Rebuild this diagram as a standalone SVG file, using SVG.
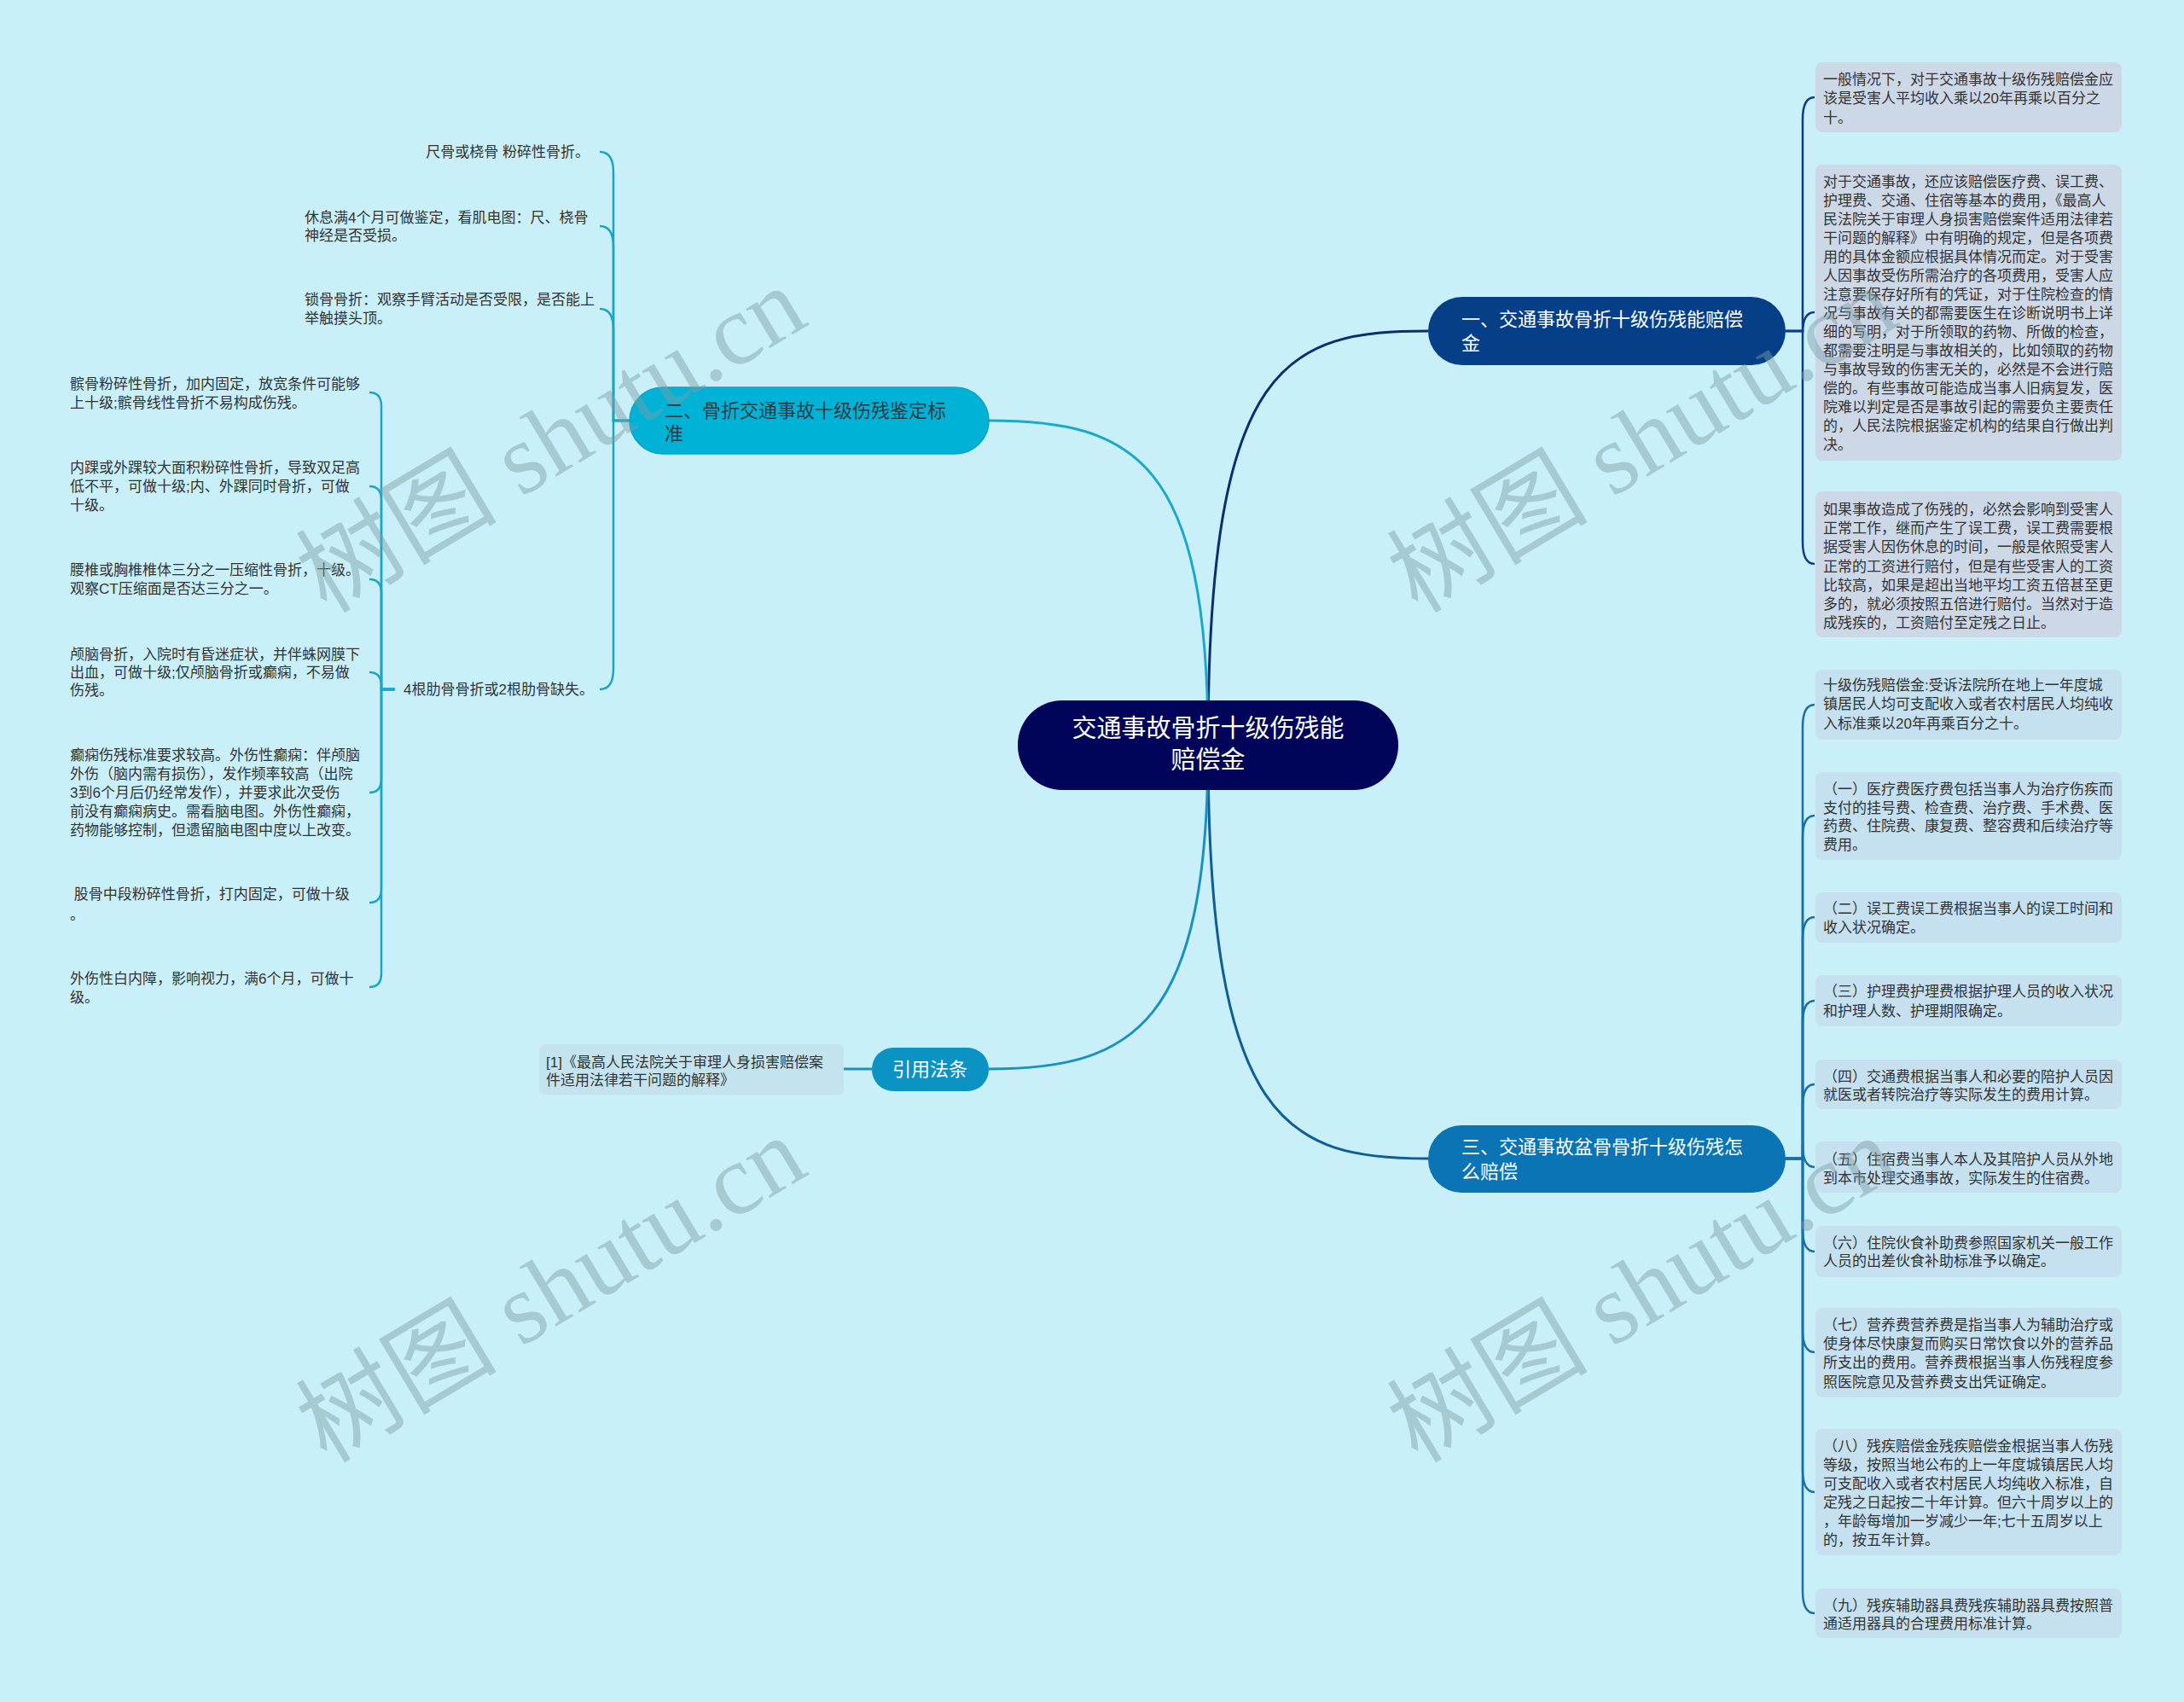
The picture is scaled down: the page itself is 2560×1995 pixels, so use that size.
<svg xmlns="http://www.w3.org/2000/svg" width="2560" height="1995" viewBox="0 0 2560 1995">
<style>
text{font-family:"Liberation Sans","Noto Sans CJK SC",sans-serif;}
.t{font-size:17px;fill:#333333;}
.n{font-size:22px;}
.w{fill:#ffffff;}
.bx1{fill:#cdd8e7;}
.bx3{fill:#c5e0ee;}
.c1{fill:none;stroke:#0d3c80;stroke-width:2.5;}
.c3{fill:none;stroke:#1b6fa8;stroke-width:2.5;}
.c2{fill:none;stroke:#1aa5c5;stroke-width:2.5;}
.cb{fill:none;stroke:#1aa6c9;stroke-width:2.5;}
.wm{font-family:"Liberation Serif","Noto Sans CJK SC",serif;font-size:118px;fill:#7d9ea6;opacity:0.45;}
</style>
<rect width="2560" height="1995" fill="#c9f0f8"/>

<g id="connectors">
  <path d="M1416 873 C1416 420,1510 388,1674 388" fill="none" stroke="#0b2f6e" stroke-width="3"/>
  <path d="M1416 873 C1416 1320,1510 1358,1674 1358" fill="none" stroke="#0e5c98" stroke-width="3"/>
  <path d="M1416 873 C1416 540,1330 493,1159 493" fill="none" stroke="#1ba9c9" stroke-width="3"/>
  <path d="M1416 873 C1416 1200,1330 1253,1159 1253" fill="none" stroke="#1a92bd" stroke-width="3"/>
  <path d="M1022 1253 H989" fill="none" stroke="#1a92bd" stroke-width="3"/>

  <path class="c1" d="M2093 388 H2113 V140 Q2113 114 2127 114"/>
  <path class="c1" d="M2093 388 H2113 V390 Q2113 366 2127 366"/>
  <path class="c1" d="M2093 388 H2113 V635 Q2113 661 2127 661"/>

  <path class="c3" d="M2093 1358 H2113 V852 Q2113 826 2127 826"/>
  <path class="c3" d="M2093 1358 H2113 V982 Q2113 956 2127 956"/>
  <path class="c3" d="M2093 1358 H2113 V1101 Q2113 1075 2127 1075"/>
  <path class="c3" d="M2093 1358 H2113 V1199 Q2113 1173 2127 1173"/>
  <path class="c3" d="M2093 1358 H2113 V1297 Q2113 1271 2127 1271"/>
  <path class="c3" d="M2093 1358 H2113 V1342 Q2113 1368 2127 1368"/>
  <path class="c3" d="M2093 1358 H2113 V1441 Q2113 1467 2127 1467"/>
  <path class="c3" d="M2093 1358 H2113 V1559 Q2113 1585 2127 1585"/>
  <path class="c3" d="M2093 1358 H2113 V1723 Q2113 1749 2127 1749"/>
  <path class="c3" d="M2093 1358 H2113 V1865 Q2113 1891 2127 1891"/>

  <path class="c2" d="M738 493 H719 V202 Q719 178 703 178"/>
  <path class="c2" d="M738 493 H719 V289 Q719 265 703 265"/>
  <path class="c2" d="M738 493 H719 V386 Q719 362 703 362"/>
  <path class="c2" d="M738 493 H719 V784 Q719 808 703 808"/>

  <path class="cb" d="M463 808 H447 V476 Q447 460 433 460"/>
  <path class="cb" d="M463 808 H447 V586 Q447 570 433 570"/>
  <path class="cb" d="M463 808 H447 V695 Q447 679 433 679"/>
  <path class="cb" d="M463 808 H447 V804 Q447 788 433 788"/>
  <path class="cb" d="M463 808 H447 V913 Q447 929 433 929"/>
  <path class="cb" d="M463 808 H447 V1042 Q447 1058 433 1058"/>
  <path class="cb" d="M463 808 H447 V1141 Q447 1157 433 1157"/>
</g>

<g id="center">
  <rect x="1193" y="821" width="446" height="105" rx="52" fill="#00055a"/>
  <text x="1416" y="864" font-size="29" class="w" text-anchor="middle">交通事故骨折十级伤残能</text>
  <text x="1416" y="901" font-size="29" class="w" text-anchor="middle">赔偿金</text>
</g>

<g id="node1">
  <rect x="1674" y="348" width="419" height="80" rx="40" fill="#053f88"/>
  <text class="n w" x="1713" y="382">一、交通事故骨折十级伤残能赔偿</text>
  <text class="n w" x="1713" y="410">金</text>
</g>

<g id="node3">
  <rect x="1674" y="1319" width="419" height="79" rx="39" fill="#0a74b5"/>
  <text class="n w" x="1713" y="1352">三、交通事故盆骨骨折十级伤残怎</text>
  <text class="n w" x="1713" y="1381">么赔偿</text>
</g>

<g id="node2">
  <rect x="738" y="454" width="421" height="78" rx="39" fill="#00b2d6" stroke="#10a2c6" stroke-width="1.5"/>
  <text class="n" fill="#2a3a44" x="779" y="489">二、骨折交通事故十级伤残鉴定标</text>
  <text class="n" fill="#2a3a44" x="779" y="516">准</text>
</g>

<g id="node-cite">
  <rect x="1022" y="1228" width="137" height="51" rx="25" fill="#0a93c3"/>
  <text class="n w" x="1090" y="1261" text-anchor="middle">引用法条</text>
</g>

<g id="cite-box">
  <rect x="632" y="1224" width="357" height="59" rx="6" fill="#c3e4ee"/>
  <text class="t" x="640" y="1251">[1]《最高人民法院关于审理人身损害赔偿案</text>
  <text class="t" x="640" y="1272">件适用法律若干问题的解释》</text>
</g>

<g id="r1a">
  <rect class="bx1" x="2128" y="73" width="359" height="82" rx="8"/>
  <text class="t" x="2137" y="99">一般情况下，对于交通事故十级伤残赔偿金应</text>
  <text class="t" x="2137" y="121">该是受害人平均收入乘以20年再乘以百分之</text>
  <text class="t" x="2137" y="144">十。</text>
</g>

<g id="r1b">
  <rect class="bx1" x="2128" y="193" width="359" height="347" rx="8"/>
  <text class="t" x="2137" y="219">对于交通事故，还应该赔偿医疗费、误工费、</text>
  <text class="t" x="2137" y="241">护理费、交通、住宿等基本的费用，《最高人</text>
  <text class="t" x="2137" y="263">民法院关于审理人身损害赔偿案件适用法律若</text>
  <text class="t" x="2137" y="285">干问题的解释》中有明确的规定，但是各项费</text>
  <text class="t" x="2137" y="307">用的具体金额应根据具体情况而定。对于受害</text>
  <text class="t" x="2137" y="329">人因事故受伤所需治疗的各项费用，受害人应</text>
  <text class="t" x="2137" y="351">注意要保存好所有的凭证，对于住院检查的情</text>
  <text class="t" x="2137" y="373">况与事故有关的都需要医生在诊断说明书上详</text>
  <text class="t" x="2137" y="395">细的写明，对于所领取的药物、所做的检查，</text>
  <text class="t" x="2137" y="417">都需要注明是与事故相关的，比如领取的药物</text>
  <text class="t" x="2137" y="439">与事故导致的伤害无关的，必然是不会进行赔</text>
  <text class="t" x="2137" y="461">偿的。有些事故可能造成当事人旧病复发，医</text>
  <text class="t" x="2137" y="483">院难以判定是否是事故引起的需要负主要责任</text>
  <text class="t" x="2137" y="505">的，人民法院根据鉴定机构的结果自行做出判</text>
  <text class="t" x="2137" y="527">决。</text>
</g>

<g id="r1c">
  <rect class="bx1" x="2128" y="576" width="359" height="171" rx="8"/>
  <text class="t" x="2137" y="603">如果事故造成了伤残的，必然会影响到受害人</text>
  <text class="t" x="2137" y="625">正常工作，继而产生了误工费，误工费需要根</text>
  <text class="t" x="2137" y="647">据受害人因伤休息的时间，一般是依照受害人</text>
  <text class="t" x="2137" y="670">正常的工资进行赔付，但是有些受害人的工资</text>
  <text class="t" x="2137" y="692">比较高，如果是超出当地平均工资五倍甚至更</text>
  <text class="t" x="2137" y="714">多的，就必须按照五倍进行赔付。当然对于造</text>
  <text class="t" x="2137" y="736">成残疾的，工资赔付至定残之日止。</text>
</g>

<g id="r3a">
  <rect class="bx3" x="2128" y="785" width="359" height="82" rx="8"/>
  <text class="t" x="2137" y="809">十级伤残赔偿金:受诉法院所在地上一年度城</text>
  <text class="t" x="2137" y="831">镇居民人均可支配收入或者农村居民人均纯收</text>
  <text class="t" x="2137" y="854">入标准乘以20年再乘百分之十。</text>
</g>
<g id="r3b">
  <rect class="bx3" x="2128" y="905" width="359" height="103" rx="8"/>
  <text class="t" x="2137" y="931">（一）医疗费医疗费包括当事人为治疗伤疾而</text>
  <text class="t" x="2137" y="953">支付的挂号费、检查费、治疗费、手术费、医</text>
  <text class="t" x="2137" y="974">药费、住院费、康复费、整容费和后续治疗等</text>
  <text class="t" x="2137" y="996">费用。</text>
</g>
<g id="r3c">
  <rect class="bx3" x="2128" y="1046" width="359" height="59" rx="8"/>
  <text class="t" x="2137" y="1071">（二）误工费误工费根据当事人的误工时间和</text>
  <text class="t" x="2137" y="1093">收入状况确定。</text>
</g>
<g id="r3d">
  <rect class="bx3" x="2128" y="1143" width="359" height="60" rx="8"/>
  <text class="t" x="2137" y="1168">（三）护理费护理费根据护理人员的收入状况</text>
  <text class="t" x="2137" y="1191">和护理人数、护理期限确定。</text>
</g>
<g id="r3e">
  <rect class="bx3" x="2128" y="1242" width="359" height="58" rx="8"/>
  <text class="t" x="2137" y="1268">（四）交通费根据当事人和必要的陪护人员因</text>
  <text class="t" x="2137" y="1289">就医或者转院治疗等实际发生的费用计算。</text>
</g>
<g id="r3f">
  <rect class="bx3" x="2128" y="1338" width="359" height="60" rx="8"/>
  <text class="t" x="2137" y="1365">（五）住宿费当事人本人及其陪护人员从外地</text>
  <text class="t" x="2137" y="1387">到本市处理交通事故，实际发生的住宿费。</text>
</g>
<g id="r3g">
  <rect class="bx3" x="2128" y="1437" width="359" height="60" rx="8"/>
  <text class="t" x="2137" y="1463">（六）住院伙食补助费参照国家机关一般工作</text>
  <text class="t" x="2137" y="1484">人员的出差伙食补助标准予以确定。</text>
</g>
<g id="r3h">
  <rect class="bx3" x="2128" y="1533" width="359" height="105" rx="8"/>
  <text class="t" x="2137" y="1559">（七）营养费营养费是指当事人为辅助治疗或</text>
  <text class="t" x="2137" y="1581">使身体尽快康复而购买日常饮食以外的营养品</text>
  <text class="t" x="2137" y="1603">所支出的费用。营养费根据当事人伤残程度参</text>
  <text class="t" x="2137" y="1626">照医院意见及营养费支出凭证确定。</text>
</g>
<g id="r3i">
  <rect class="bx3" x="2128" y="1675" width="359" height="148" rx="8"/>
  <text class="t" x="2137" y="1701">（八）残疾赔偿金残疾赔偿金根据当事人伤残</text>
  <text class="t" x="2137" y="1723">等级，按照当地公布的上一年度城镇居民人均</text>
  <text class="t" x="2137" y="1745">可支配收入或者农村居民人均纯收入标准，自</text>
  <text class="t" x="2137" y="1767">定残之日起按二十年计算。但六十周岁以上的</text>
  <text class="t" x="2137" y="1789">，年龄每增加一岁减少一年;七十五周岁以上</text>
  <text class="t" x="2137" y="1811">的，按五年计算。</text>
</g>
<g id="r3j">
  <rect class="bx3" x="2128" y="1862" width="359" height="58" rx="8"/>
  <text class="t" x="2137" y="1888">（九）残疾辅助器具费残疾辅助器具费按照普</text>
  <text class="t" x="2137" y="1909">通适用器具的合理费用标准计算。</text>
</g>

<g id="l2a">
  <text class="t" x="691" y="184" text-anchor="end">尺骨或桡骨 粉碎性骨折。</text>
</g>
<g id="l2b">
  <text class="t" x="357" y="261">休息满4个月可做鉴定，看肌电图：尺、桡骨</text>
  <text class="t" x="357" y="282">神经是否受损。</text>
</g>
<g id="l2c">
  <text class="t" x="357" y="357">锁骨骨折：观察手臂活动是否受限，是否能上</text>
  <text class="t" x="357" y="379">举触摸头顶。</text>
</g>
<g id="l2d">
  <text class="t" x="473" y="814">4根肋骨骨折或2根肋骨缺失。</text>
</g>

<g id="l4a">
  <text class="t" x="82" y="456">髌骨粉碎性骨折，加内固定，放宽条件可能够</text>
  <text class="t" x="82" y="478">上十级;髌骨线性骨折不易构成伤残。</text>
</g>
<g id="l4b">
  <text class="t" x="82" y="554">内踝或外踝较大面积粉碎性骨折，导致双足高</text>
  <text class="t" x="82" y="576">低不平，可做十级;内、外踝同时骨折，可做</text>
  <text class="t" x="82" y="598">十级。</text>
</g>
<g id="l4c">
  <text class="t" x="82" y="674">腰椎或胸椎椎体三分之一压缩性骨折，十级。</text>
  <text class="t" x="82" y="696">观察CT压缩面是否达三分之一。</text>
</g>
<g id="l4d">
  <text class="t" x="82" y="773">颅脑骨折，入院时有昏迷症状，并伴蛛网膜下</text>
  <text class="t" x="82" y="794">出血，可做十级;仅颅脑骨折或癫痫，不易做</text>
  <text class="t" x="82" y="815">伤残。</text>
</g>
<g id="l4e">
  <text class="t" x="82" y="891">癫痫伤残标准要求较高。外伤性癫痫：伴颅脑</text>
  <text class="t" x="82" y="913">外伤（脑内需有损伤），发作频率较高（出院</text>
  <text class="t" x="82" y="935">3到6个月后仍经常发作），并要求此次受伤</text>
  <text class="t" x="82" y="957">前没有癫痫病史。需看脑电图。外伤性癫痫，</text>
  <text class="t" x="82" y="979">药物能够控制，但遗留脑电图中度以上改变。</text>
</g>
<g id="l4f">
  <text class="t" x="82" y="1054" xml:space="preserve"> 股骨中段粉碎性骨折，打内固定，可做十级</text>
  <text class="t" x="82" y="1078">。</text>
</g>
<g id="l4g">
  <text class="t" x="82" y="1153">外伤性白内障，影响视力，满6个月，可做十</text>
  <text class="t" x="82" y="1175">级。</text>
</g>

<g id="watermarks">
  <text class="wm" x="648" y="555" text-anchor="middle" transform="rotate(-31 648 519)">树图 shutu.cn</text>
  <text class="wm" x="648" y="1551" text-anchor="middle" transform="rotate(-31 648 1515)">树图 shutu.cn</text>
  <text class="wm" x="1927" y="555" text-anchor="middle" transform="rotate(-31 1927 519)">树图 shutu.cn</text>
  <text class="wm" x="1927" y="1551" text-anchor="middle" transform="rotate(-31 1927 1515)">树图 shutu.cn</text>
</g>
</svg>
